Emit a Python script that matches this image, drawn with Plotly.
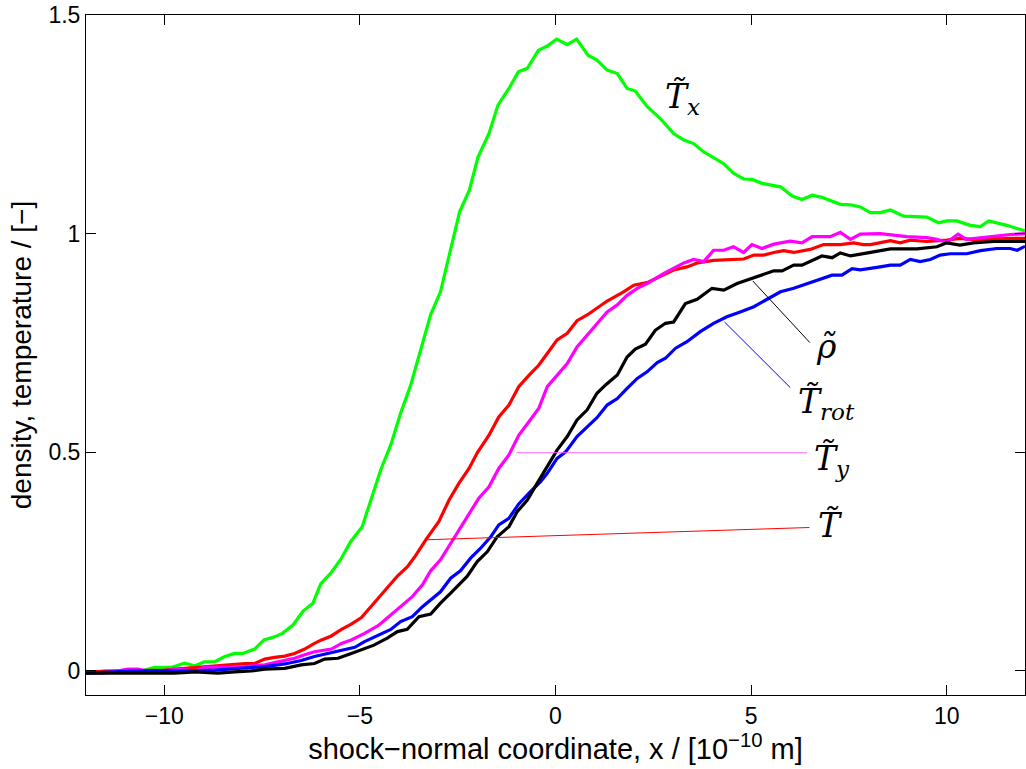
import plotly.graph_objects as go

# ---- data ----
x_Tx = [-12, -11.5, -11, -10.5, -10.24, -9.82, -9.48, -9.22, -8.97, -8.71, -8.45, -8.2, -7.99, -7.69, -7.45, -7.18, -6.98, -6.71, -6.45, -6.2, -6.0, -5.75, -5.49, -5.24, -4.94, -4.73, -4.47, -4.21, -3.96, -3.70, -3.45, -3.19, -2.94, -2.68, -2.45, -2.2, -1.98, -1.70, -1.47, -1.19, -0.95, -0.72, -0.44, -0.21, 0.03, 0.30, 0.54, 0.83, 1.06, 1.32, 1.58, 1.83, 2.04, 2.34, 2.68, 3.02, 3.28, 3.53, 3.79, 4.30, 4.55, 4.81, 5.02, 5.28, 5.75, 6.05, 6.30, 6.56, 6.81, 7.28, 7.54, 7.79, 8.05, 8.30, 8.56, 8.90, 9.49, 9.79, 10.0, 10.26, 10.6, 10.86, 11.07, 11.54, 12]
y_Tx = [-0.005, 0.0, 0.0, 0.002, 0.008, 0.008, 0.018, 0.012, 0.021, 0.021, 0.033, 0.040, 0.040, 0.050, 0.071, 0.078, 0.086, 0.105, 0.137, 0.155, 0.199, 0.223, 0.255, 0.295, 0.330, 0.387, 0.459, 0.517, 0.589, 0.654, 0.734, 0.815, 0.867, 0.962, 1.05, 1.10, 1.175, 1.229, 1.294, 1.332, 1.370, 1.378, 1.419, 1.429, 1.445, 1.432, 1.445, 1.408, 1.397, 1.374, 1.366, 1.332, 1.326, 1.291, 1.263, 1.229, 1.214, 1.206, 1.187, 1.160, 1.138, 1.125, 1.124, 1.115, 1.107, 1.086, 1.078, 1.088, 1.083, 1.067, 1.066, 1.061, 1.048, 1.048, 1.054, 1.040, 1.038, 1.025, 1.029, 1.029, 1.019, 1.016, 1.029, 1.019, 1.006]

x_T = [-12, -11, -10, -9.48, -8.97, -8.45, -7.94, -7.69, -7.43, -7.18, -6.92, -6.67, -6.41, -6.16, -5.98, -5.73, -5.47, -5.22, -4.96, -4.62, -4.37, -4.04, -3.79, -3.58, -3.32, -2.98, -2.72, -2.47, -2.21, -2.0, -1.70, -1.45, -1.19, -0.94, -0.68, -0.43, -0.21, 0.04, 0.30, 0.55, 0.81, 1.06, 1.32, 1.74, 2.0, 2.34, 2.77, 3.02, 3.36, 3.62, 4.04, 4.81, 5.07, 5.32, 5.58, 5.83, 6.09, 6.51, 6.85, 7.28, 7.62, 7.87, 8.05, 8.56, 8.81, 9.07, 9.49, 10.0, 10.34, 10.86, 11.2, 12]
y_T = [-0.002, 0.0, 0.002, 0.006, 0.010, 0.013, 0.017, 0.017, 0.027, 0.031, 0.034, 0.040, 0.050, 0.063, 0.071, 0.080, 0.095, 0.107, 0.122, 0.157, 0.184, 0.217, 0.238, 0.263, 0.299, 0.342, 0.391, 0.429, 0.463, 0.499, 0.539, 0.581, 0.608, 0.650, 0.676, 0.699, 0.726, 0.757, 0.772, 0.801, 0.814, 0.829, 0.846, 0.867, 0.882, 0.888, 0.907, 0.917, 0.924, 0.933, 0.939, 0.942, 0.951, 0.951, 0.957, 0.961, 0.957, 0.964, 0.975, 0.975, 0.979, 0.975, 0.975, 0.984, 0.979, 0.985, 0.982, 0.985, 0.989, 0.985, 0.989, 0.989]

x_Ty = [-12, -11.52, -10.92, -10.67, -10.33, -10.0, -9.65, -9.22, -8.97, -8.45, -7.94, -7.43, -7.18, -6.92, -6.67, -6.41, -6.16, -5.73, -5.47, -5.22, -4.88, -4.51, -4.21, -3.92, -3.66, -3.40, -3.19, -2.94, -2.60, -2.26, -1.96, -1.70, -1.45, -1.19, -0.94, -0.68, -0.43, -0.21, 0.04, 0.30, 0.55, 0.81, 1.06, 1.32, 1.58, 1.83, 2.09, 2.34, 2.77, 3.02, 3.28, 3.53, 3.79, 4.04, 4.30, 4.55, 4.81, 5.02, 5.28, 5.58, 6.0, 6.30, 6.56, 7.02, 7.28, 7.54, 7.79, 8.3, 8.98, 9.49, 9.75, 10.0, 10.29, 10.5, 11.03, 11.62, 12]
y_Ty = [-0.005, -0.005, 0.004, 0.004, -0.002, 0.0, 0.004, 0.0, 0.008, 0.008, 0.010, 0.014, 0.019, 0.024, 0.029, 0.037, 0.044, 0.050, 0.063, 0.071, 0.086, 0.105, 0.128, 0.151, 0.170, 0.197, 0.229, 0.254, 0.303, 0.353, 0.395, 0.421, 0.463, 0.494, 0.539, 0.570, 0.600, 0.650, 0.677, 0.703, 0.741, 0.768, 0.795, 0.821, 0.837, 0.859, 0.875, 0.886, 0.909, 0.920, 0.933, 0.941, 0.936, 0.962, 0.962, 0.970, 0.957, 0.975, 0.966, 0.976, 0.983, 0.979, 0.993, 0.993, 1.003, 0.987, 0.999, 1.0, 0.993, 0.991, 0.987, 0.980, 0.999, 0.987, 0.993, 0.998, 1.0]

x_Trot = [-12, -10.7, -10, -9.2, -8.71, -7.94, -7.43, -6.92, -6.50, -6.16, -5.73, -5.39, -5.13, -4.88, -4.62, -4.37, -4.21, -3.96, -3.66, -3.40, -3.15, -2.94, -2.68, -2.43, -2.17, -1.92, -1.66, -1.45, -1.19, -0.94, -0.64, -0.38, -0.21, 0.04, 0.26, 0.55, 0.81, 1.06, 1.32, 1.58, 1.83, 2.09, 2.34, 2.60, 2.81, 3.07, 3.36, 3.70, 4.04, 4.38, 4.72, 5.07, 5.41, 5.75, 6.09, 6.43, 6.85, 7.07, 7.32, 7.58, 7.79, 8.05, 8.3, 8.56, 8.81, 9.07, 9.32, 9.58, 9.83, 10.09, 10.51, 10.86, 11.28, 11.62, 11.8, 12]
y_Trot = [-0.005, 0.0, 0.0, 0.0, 0.002, 0.006, 0.010, 0.016, 0.024, 0.033, 0.042, 0.050, 0.054, 0.067, 0.078, 0.090, 0.095, 0.113, 0.124, 0.147, 0.166, 0.181, 0.212, 0.229, 0.258, 0.280, 0.306, 0.334, 0.349, 0.382, 0.410, 0.433, 0.452, 0.486, 0.501, 0.536, 0.558, 0.579, 0.608, 0.623, 0.646, 0.669, 0.684, 0.705, 0.715, 0.738, 0.753, 0.776, 0.795, 0.810, 0.821, 0.833, 0.850, 0.867, 0.875, 0.886, 0.898, 0.905, 0.905, 0.920, 0.917, 0.920, 0.924, 0.928, 0.928, 0.941, 0.936, 0.941, 0.951, 0.954, 0.954, 0.961, 0.966, 0.966, 0.962, 0.971]

x_rho = [-12, -11.2, -10.24, -9.75, -9.2, -8.63, -8.2, -7.77, -7.43, -6.92, -6.5, -6.16, -5.90, -5.56, -5.22, -4.96, -4.64, -4.30, -4.04, -3.79, -3.49, -3.19, -2.94, -2.68, -2.51, -2.26, -2.0, -1.74, -1.49, -1.19, -0.98, -0.72, -0.47, -0.21, 0.04, 0.30, 0.55, 0.81, 1.06, 1.28, 1.58, 1.83, 2.04, 2.30, 2.55, 2.81, 3.02, 3.32, 3.62, 4.0, 4.30, 4.64, 4.98, 5.28, 5.58, 5.79, 6.09, 6.30, 6.56, 6.81, 7.07, 7.28, 7.54, 7.79, 8.56, 9.24, 9.49, 9.75, 10.0, 10.34, 10.68, 11.2, 12]
y_rho = [-0.005, -0.005, -0.005, -0.005, -0.002, -0.005, -0.002, 0.0, 0.004, 0.006, 0.014, 0.017, 0.027, 0.029, 0.040, 0.048, 0.059, 0.075, 0.090, 0.095, 0.124, 0.130, 0.155, 0.178, 0.193, 0.216, 0.250, 0.273, 0.307, 0.330, 0.364, 0.391, 0.429, 0.467, 0.505, 0.536, 0.574, 0.597, 0.635, 0.654, 0.677, 0.718, 0.736, 0.747, 0.779, 0.795, 0.798, 0.840, 0.850, 0.875, 0.871, 0.886, 0.897, 0.907, 0.915, 0.915, 0.928, 0.928, 0.939, 0.949, 0.945, 0.956, 0.949, 0.953, 0.965, 0.965, 0.968, 0.970, 0.979, 0.974, 0.979, 0.982, 0.982]

x_ticks = [-10, -5, 0, 5, 10]
y_ticks = [0, 0.5, 1, 1.5]
y_ticklabels = ["0", "0.5", "1", "1.5"]

series = [
    (x_Tx, y_Tx, "#00ff00", "T̃x"),
    (x_T, y_T, "#ff0000", "T̃"),
    (x_Ty, y_Ty, "#ff00ff", "T̃y"),
    (x_Trot, y_Trot, "#0000ff", "T̃rot"),
    (x_rho, y_rho, "#000000", "ρ̃"),
]

fig = go.Figure()
for xs, ys, col, name in series:
    fig.add_trace(go.Scatter(x=xs, y=ys, mode="lines", name=name,
                             line=dict(color=col, width=3.2), showlegend=False))

# leader lines for labels
leaders = [
    (5.04, 0.892, 6.50, 0.751, "#000000"),
    (4.32, 0.798, 6.00, 0.648, "#0000ff"),
    (-1.00, 0.499, 6.43, 0.499, "#ff66ff"),
    (-3.28, 0.300, 6.49, 0.328, "#ff0000"),
]
for x0, y0, x1, y1, c in leaders:
    fig.add_shape(type="line", x0=x0, y0=y0, x1=x1, y1=y1, xref="x", yref="y",
                  line=dict(color=c, width=1))

lab_font = dict(family="DejaVu Serif", size=33, color="black")
labels = [
    (2.75, 1.31, "<i>T\u0303</i><sub><i>x</i></sub>"),
    (6.60, 0.742, "<i>\u03c1\u0303</i>"),
    (6.15, 0.612, "<i>T\u0303</i><sub><i>rot</i></sub>"),
    (6.55, 0.482, "<i>T\u0303</i><sub><i>y</i></sub>"),
    (6.65, 0.333, "<i>T\u0303</i>"),
]
for lx, ly, txt in labels:
    fig.add_annotation(x=lx, y=ly, text=txt, showarrow=False, xanchor="left",
                       yanchor="middle", font=lab_font, xref="x", yref="y")

axis_common = dict(showline=True, linecolor="black", linewidth=1, mirror="ticks",
                   ticks="inside", ticklen=10, tickcolor="black", tickwidth=1,
                   showgrid=False, zeroline=False, automargin=False,
                   ticklabeloverflow="allow",
                   tickfont=dict(family="Liberation Sans", size=23, color="black"))

fig.update_xaxes(range=[-12, 12], tickvals=x_ticks,
                 title=dict(text="shock\u2212normal coordinate, x / [10<sup>\u221210</sup> m]",
                            font=dict(family="Liberation Sans", size=29, color="black"),
                            standoff=6),
                 **axis_common)
fig.update_yaxes(range=[-0.055, 1.5], tickvals=y_ticks, ticktext=y_ticklabels,
                 title=dict(text="density, temperature / [\u2212]",
                            font=dict(family="Liberation Sans", size=28, color="black"),
                            standoff=8),
                 **axis_common)

fig.update_layout(width=1026, height=769, margin=dict(l=86, r=1, t=15, b=74),
                  plot_bgcolor="white", paper_bgcolor="white")

# remove the default page margin so the figure fills the window exactly
fig.write_html("out.html", config={"displayModeBar": False},
               post_script="document.body.style.margin='0px';document.body.style.overflow='hidden';")
